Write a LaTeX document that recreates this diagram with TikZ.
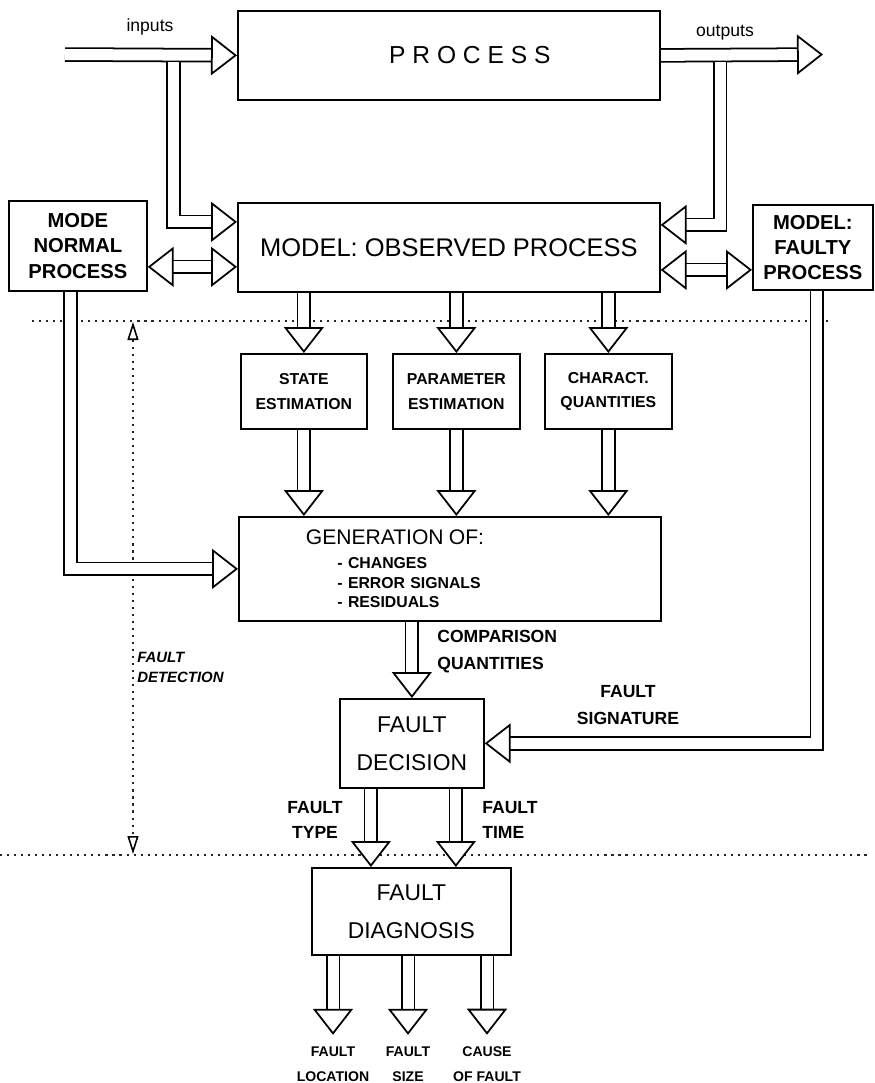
\documentclass[tikz,border=0pt]{standalone}
\usepackage{fontspec}
\setmainfont{Liberation Sans}
\usetikzlibrary{arrows.meta,backgrounds}
\tikzset{
    opentri/.tip={Triangle[color=black,fill=white,length=0.52cm,width=0.8cm]},
    smalltri/.tip={Triangle[open,length=0.36cm,width=0.22cm,line width=0.9pt,color=black]},
    box/.style={draw,line width=1pt,anchor=north west,inner sep=0pt,align=center},
    flow/.style={draw=white,line width=1pt,-opentri,
        preaction={draw=black,double=white,double distance=0.22cm,-,shorten >=0.26cm}},
    flowtwo/.style={draw=white,line width=1pt,opentri-opentri,
        preaction={draw=black,double=white,double distance=0.22cm,-,shorten >=0.26cm,shorten <=0.26cm}},
    lbl/.style={inner sep=0pt,align=center,font=\bfseries\fontsize{10}{15}\selectfont},
    divider/.style={black!85,line width=0.6pt,dash pattern=on 1.2pt off 2.8pt},
}
\begin{document}
\begin{tikzpicture}[x=0.02cm,y=-0.02cm]
    \useasboundingbox (0,0) rectangle (875,1083);
    \node[box,minimum width=8.44cm,minimum height=1.78cm,font=\fontsize{14}{17}\selectfont] (process) at (237,10) {\hspace*{0.84cm}P R O C E S S};
    \node[box,minimum width=8.44cm,minimum height=1.78cm,font=\fontsize{14.5}{17}\selectfont] (model) at (237,202) {MODEL: OBSERVED PROCESS};
    \node[box,minimum width=2.76cm,minimum height=1.8cm,font=\bfseries\fontsize{11.5}{14.7}\selectfont] (normal) at (8,200) {MODE\\NORMAL\\PROCESS};
    \node[box,minimum width=2.4cm,minimum height=1.7cm,font=\bfseries\fontsize{11.5}{14.2}\selectfont] (faulty) at (752,204) {MODEL:\\FAULTY\\PROCESS};
    \node[box,minimum width=2.52cm,minimum height=1.5cm,font=\bfseries\fontsize{9}{14}\selectfont] (state) at (240,353) {STATE\\ESTIMATION};
    \node[box,minimum width=2.54cm,minimum height=1.5cm,font=\bfseries\fontsize{9}{14}\selectfont] (param) at (392,353) {PARAMETER\\ESTIMATION};
    \node[box,minimum width=2.54cm,minimum height=1.5cm,font=\bfseries\fontsize{9}{14}\selectfont] (charact) at (544,353) {CHARACT.\\QUANTITIES};
    \node[box,minimum width=8.44cm,minimum height=2.08cm,inner xsep=1.34cm,text width=5.76cm,align=left,font=\bfseries\fontsize{9}{11.3}\selectfont] (gen) at (238,516)
        {{\mdseries\fontsize{12}{14}\selectfont GENERATION OF:}\\[2.3pt]\hspace*{18pt}- CHANGES\\\hspace*{18pt}- ERROR SIGNALS\\\hspace*{18pt}- RESIDUALS};
    \node[box,minimum width=2.88cm,minimum height=1.78cm,font=\fontsize{13}{21.5}\selectfont] (decision) at (339,698) {FAULT\\DECISION};
    \node[box,minimum width=3.98cm,minimum height=1.74cm,font=\fontsize{13}{21.5}\selectfont] (diagnosis) at (311,867) {FAULT\\DIAGNOSIS};

    \node[inner sep=0pt,font=\fontsize{10}{12}\selectfont] (inlbl) at (150,27) {inputs};
    \node[inner sep=0pt,font=\fontsize{10}{12}\selectfont] (outlbl) at (725,33) {outputs};
    \node[lbl,anchor=west,align=left,font=\bfseries\fontsize{10}{15.3}\selectfont] (comp) at (437,652) {COMPARISON\\QUANTITIES};
    \node[lbl] (sig) at (628,705) {FAULT\\SIGNATURE};
    \node[lbl,font=\bfseries\fontsize{10}{14}\selectfont] (type) at (315,820) {FAULT\\TYPE};
    \node[lbl,anchor=west,align=left,font=\bfseries\fontsize{10}{14}\selectfont] (time) at (482,820) {FAULT\\TIME};
    \node[lbl,anchor=west,align=left,font=\bfseries\itshape\fontsize{8.5}{11.3}\selectfont] (detect) at (137,667) {FAULT\\DETECTION};
    \node[lbl,outer sep=0.24cm,font=\bfseries\fontsize{8}{14}\selectfont] (loc) at (333,1064) {FAULT\\LOCATION};
    \node[lbl,outer sep=0.24cm,font=\bfseries\fontsize{8}{14}\selectfont] (size) at (408,1064) {FAULT\\SIZE};
    \node[lbl,outer sep=0.24cm,font=\bfseries\fontsize{8}{14}\selectfont] (cause) at (487,1064) {CAUSE\\OF FAULT};

    \begin{scope}[on background layer]
        \draw[divider] (32,321) -- (832,321);
        \draw[divider] (0,855) -- (870,855);
        \coordinate (dtop) at (133,322);
        \coordinate (dbot) at (133,854);
        \draw[divider,smalltri-smalltri] (dtop) -- (dbot);

        \coordinate (in) at (65,54.5);
        \coordinate (out) at (823,54.5);
        \coordinate (tapin) at (173.5,62);
        \coordinate (tapout) at (720,62);
        \draw[flow] (in) -- (process.west);
        \draw[flow] (process.east) -- (out);
        \draw[flow] (tapin) |- ([yshift=0.51cm]model.west);
        \draw[flow] (tapout) |- ([yshift=0.45cm]model.east);
        \draw[flowtwo] ([yshift=-0.39cm]model.west) -- ([yshift=-0.39cm]model.west -| normal.east);
        \draw[flowtwo] ([yshift=-0.45cm]model.east) -- ([yshift=-0.45cm]model.east -| faulty.west);
        \draw[flow] (model.south -| state.north) -- (state.north);
        \draw[flow] (model.south -| param.north) -- (param.north);
        \draw[flow] (model.south -| charact.north) -- (charact.north);
        \draw[flow] (state.south) -- (state.south |- gen.north);
        \draw[flow] (param.south) -- (param.south |- gen.north);
        \draw[flow] (charact.south) -- (charact.south |- gen.north);
        \draw[flow] ([xshift=-0.15cm]normal.south) |- (gen.west);
        \draw[flow] (gen.south -| decision.north) -- (decision.north);
        \draw[flow] ([xshift=0.08cm]faulty.south) |- (decision.east);
        \draw[flow] ([xshift=-0.82cm]decision.south) -- ([xshift=-0.82cm]decision.south |- diagnosis.north);
        \draw[flow] ([xshift=0.88cm]decision.south) -- ([xshift=0.88cm]decision.south |- diagnosis.north);
        \draw[flow] (loc.north |- diagnosis.south) -- (loc.north);
        \draw[flow] (size.north |- diagnosis.south) -- (size.north);
        \draw[flow] (cause.north |- diagnosis.south) -- (cause.north);
    \end{scope}
\end{tikzpicture}
\end{document}
